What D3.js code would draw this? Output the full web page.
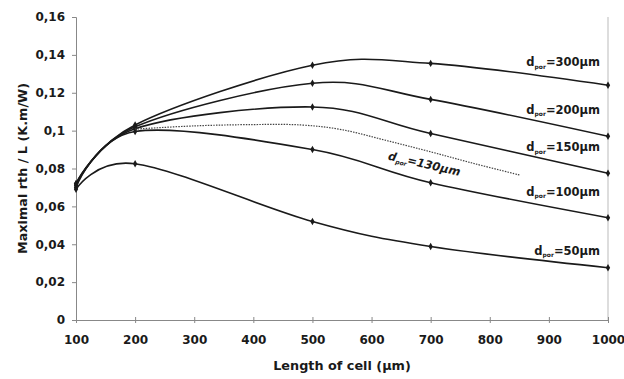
<!DOCTYPE html>
<html>
<head>
<meta charset="utf-8">
<script src="https://cdn.jsdelivr.net/npm/d3@7"></script>
<style>
  body { margin: 0; background: #fff; }
  text { font-family: "DejaVu Sans", sans-serif; font-weight: bold; fill: #1a1a1a; }
</style>
</head>
<body>
<div id="chart"></div>
<script>
// cell lengths (µm) where markers sit
const lengths = [100, 200, 500, 700, 1000];
const xTicks = [100, 200, 300, 400, 500, 600, 700, 800, 900, 1000];
const yTicks = [0, 0.02, 0.04, 0.06, 0.08, 0.1, 0.12, 0.14, 0.16];

// pore diameters and their values
const poreLabels = ["300", "200", "150", "100", "50"];
const d300 = [0.072, 0.103, 0.1345, 0.1355, 0.124];
const d200 = [0.072, 0.102, 0.125, 0.1165, 0.097];
const d150 = [0.071, 0.101, 0.1125, 0.0985, 0.0775];
const d100 = [0.070, 0.0995, 0.090, 0.0725, 0.054];
const d50 = [0.069, 0.0825, 0.052, 0.0388, 0.0276];

// dotted d=130 µm curve (no markers)
const d130x = [200, 300, 400, 480, 550, 625, 700, 775, 850];
const d130y = [0.1008, 0.1025, 0.1032, 0.103, 0.1005, 0.0948, 0.0888, 0.0825, 0.0766];

const width = 624, height = 379;
const margin = { top: 17, right: 16, bottom: 59, left: 76 };

const svg = d3.select("#chart").append("svg")
  .attr("width", width)
  .attr("height", height);

const x = d3.scaleLinear().domain([100, 1000]).range([margin.left, width - margin.right]);
const y = d3.scaleLinear().domain([0, 0.16]).range([height - margin.bottom, margin.top]);

const fmt = d => String(d).replace(".", ",");

// right border of plot area
svg.append("line")
  .attr("x1", x(1000)).attr("x2", x(1000))
  .attr("y1", y(0.16)).attr("y2", y(0))
  .attr("stroke", "#bbb");

// y axis
const yAxis = svg.append("g")
  .attr("transform", `translate(${x(100)},0)`)
  .call(d3.axisLeft(y).tickValues(yTicks).tickFormat(fmt).tickSize(4).tickPadding(7));
yAxis.select(".domain").attr("stroke", "#888");
yAxis.selectAll(".tick line").attr("stroke", "#888");
yAxis.selectAll("text").attr("font-size", 12).attr("fill", "#1a1a1a").attr("font-family", null);

// x axis
const xAxis = svg.append("g")
  .attr("transform", `translate(0,${y(0)})`)
  .call(d3.axisBottom(x).tickValues(xTicks).tickFormat(d3.format("d")).tickSizeInner(3).tickSizeOuter(0).tickPadding(12));
xAxis.select(".domain").attr("stroke", "#888");
xAxis.selectAll(".tick line").attr("stroke", "#888").attr("y1", -3);
xAxis.selectAll("text").attr("font-size", 12).attr("fill", "#1a1a1a").attr("font-family", null);

// axis titles
svg.append("text")
  .attr("x", (x(100) + x(1000)) / 2)
  .attr("y", 370)
  .attr("text-anchor", "middle")
  .attr("font-size", 12.8)
  .text("Length of cell (µm)");

svg.append("text")
  .attr("transform", `translate(27,${(y(0) + y(0.16)) / 2}) rotate(-90)`)
  .attr("text-anchor", "middle")
  .attr("font-size", 12.8)
  .text("Maximal rth / L (K.m/W)");

// curves
const line = d3.line()
  .x(d => x(d[0]))
  .y(d => y(d[1]))
  .curve(d3.curveCatmullRom.alpha(0));

const series = [d300, d200, d150, d100, d50];

series.forEach(vals => {
  const pts = lengths.map((l, i) => [l, vals[i]]);
  svg.append("path")
    .datum(pts)
    .attr("fill", "none")
    .attr("stroke", "#1a1a1a")
    .attr("stroke-width", 1.6)
    .attr("d", line);

  svg.append("g").selectAll("path")
    .data(pts)
    .enter()
    .append("path")
    .attr("d", d3.symbol(d3.symbolDiamond, 16))
    .attr("transform", d => `translate(${x(d[0])},${y(d[1])})`)
    .attr("fill", "#1a1a1a");
});

svg.append("path")
  .datum(d130x.map((v, i) => [v, d130y[i]]))
  .attr("fill", "none")
  .attr("stroke", "#444")
  .attr("stroke-width", 1.2)
  .attr("stroke-dasharray", "1.5,1.2")
  .attr("d", line);

// labels (baseline values in data units)
const labelY = [0.134, 0.109, 0.089, 0.0655, 0.0345];
poreLabels.forEach((p, i) => {
  const t = svg.append("text")
    .attr("x", x(1000) - 8)
    .attr("y", y(labelY[i]))
    .attr("text-anchor", "end")
    .attr("font-size", 11.5);
  t.append("tspan").text("d");
  t.append("tspan").attr("font-size", 6).attr("dy", 2.5).text("por");
  t.append("tspan").attr("dy", -2.5).text(`=${p}µm`);
});

const l130 = svg.append("text")
  .attr("transform", `translate(${x(627)},${y(0.0848)}) rotate(13)`)
  .attr("font-size", 11.5)
  .attr("font-style", "italic");
l130.append("tspan").text("d");
l130.append("tspan").attr("font-size", 6).attr("dy", 2.5).text("por");
l130.append("tspan").attr("dy", -2.5).text("=130µm");
</script>
</body>
</html>
